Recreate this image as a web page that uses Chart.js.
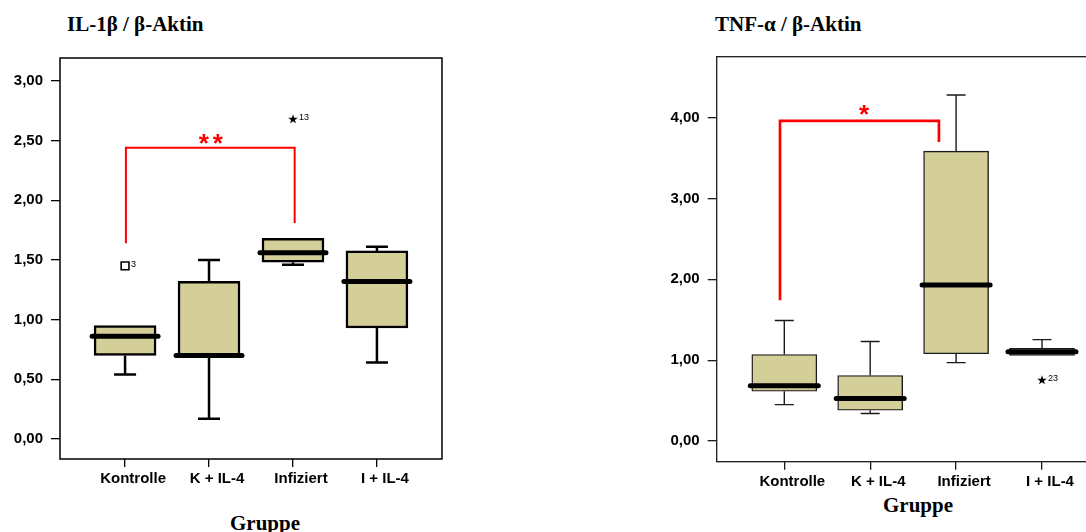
<!DOCTYPE html>
<html>
<head>
<meta charset="utf-8">
<script src="https://cdn.jsdelivr.net/npm/chart.js@4.4.1/dist/chart.umd.min.js"></script>
<style>
  body { margin: 0; width: 1086px; height: 532px; overflow: hidden; position: relative; background: #fff; }
  canvas { position: absolute; top: 0; }
  .title, .axis-title {
    position: absolute; font-family: "Liberation Serif", "Times New Roman", serif;
    font-weight: bold; color: #000; white-space: nowrap;
  }
  .title { font-size: 21px; transform: translateY(-50%); }
  .axis-title { font-size: 21px; transform: translate(-50%, -50%); }
</style>
</head>
<body>
<div class="title" style="left:67px; top:24px">IL-1β / β-Aktin</div>
<div class="title" style="left:715px; top:24px">TNF-α / β-Aktin</div>
<div class="axis-title" style="left:265px; top:523px">Gruppe</div>
<div class="axis-title" style="left:918px; top:505px">Gruppe</div>
<canvas id="il1" width="470" height="532" style="left:0"></canvas>
<canvas id="tnf" width="510" height="532" style="left:620px"></canvas>
<script>
const groups = ["Kontrolle", "K + IL-4", "Infiziert", "I + IL-4"];
const yTicksIl1 = [0, 0.5, 1, 1.5, 2, 2.5, 3];
const yTicksTnf = [0, 1, 2, 3, 4];

// IL-1β / β-Aktin
const il1Min = [0.54, 0.17, 1.46, 0.64];
const il1Q1 = [0.70, 0.70, 1.48, 0.93];
const il1Median = [0.86, 0.70, 1.56, 1.32];
const il1Q3 = [0.95, 1.32, 1.68, 1.575];
const il1Max = [0.95, 1.50, 1.68, 1.61];
const il1OutlierGroup = [1, 3];
const il1OutlierValue = [1.45, 2.68];
const il1OutlierCase = ["3", "13"];
const il1BracketX = [1.01, 3.02];
const il1BracketY = [1.64, 2.44, 1.81];

// TNF-α / β-Aktin
const tnfMin = [0.45, 0.34, 0.97, 1.06];
const tnfQ1 = [0.615, 0.38, 1.08, 1.06];
const tnfMedian = [0.685, 0.525, 1.93, 1.105];
const tnfQ3 = [1.07, 0.81, 3.585, 1.147];
const tnfMax = [1.49, 1.23, 4.28, 1.254];
const tnfOutlierGroup = [4];
const tnfOutlierValue = [0.755];
const tnfOutlierCase = ["23"];
const tnfBracketX = [0.95, 2.80];
const tnfBracketY = [1.74, 3.96, 3.70];

const boxFill = "#d4ce99";
Chart.defaults.font.family = "'Liberation Sans', Arial, sans-serif";
Chart.defaults.color = "#000";

// small filled star used for extreme values
const starImg = document.createElement("canvas");
starImg.width = 10; starImg.height = 10;
(function () {
  const c = starImg.getContext("2d");
  c.beginPath();
  for (let i = 0; i < 10; i++) {
    const r = i % 2 ? 2 : 5;
    const a = -Math.PI / 2 + i * Math.PI / 5;
    c.lineTo(5 + r * Math.cos(a), 5.3 + r * Math.sin(a));
  }
  c.closePath();
  c.fillStyle = "#000";
  c.fill();
})();

const fmt = v => v.toFixed(2).replace(".", ",");

const boxPlotLayer = {
  id: "boxPlotLayer",
  beforeDatasetsDraw(chart, args, o) {
    const { ctx, chartArea: a, scales: { x, y } } = chart;
    ctx.save();
    ctx.lineWidth = o.frameWidth;
    ctx.strokeStyle = o.color;
    ctx.strokeRect(a.left, a.top, a.right - a.left, a.bottom - a.top);
    ctx.lineWidth = o.lineWidth;
    o.min.forEach((lo, i) => {
      const px = x.getPixelForValue(i + 1);
      [[o.q1[i], lo], [o.q3[i], o.max[i]]].forEach(([from, to]) => {
        if (from === to) return;
        const yt = y.getPixelForValue(to);
        ctx.beginPath();
        ctx.moveTo(px, y.getPixelForValue(from));
        ctx.lineTo(px, yt);
        ctx.moveTo(px - o.capHalf, yt);
        ctx.lineTo(px + o.capHalf, yt);
        ctx.stroke();
      });
    });
    ctx.restore();
  },
  afterDatasetsDraw(chart, args, o) {
    const { ctx, scales: { x, y } } = chart;
    ctx.save();
    // medians
    ctx.lineWidth = 5;
    ctx.lineCap = "round";
    ctx.strokeStyle = "#000";
    o.median.forEach((m, i) => {
      const px = x.getPixelForValue(i + 1), py = y.getPixelForValue(m);
      ctx.beginPath();
      ctx.moveTo(px - o.medianHalf, py);
      ctx.lineTo(px + o.medianHalf, py);
      ctx.stroke();
    });
    // case numbers
    ctx.lineCap = "butt";
    ctx.font = "9px 'Liberation Sans', Arial, sans-serif";
    ctx.fillStyle = "#000";
    ctx.textBaseline = "middle";
    o.caseGroup.forEach((g, i) => {
      ctx.fillText(o.caseLabel[i], x.getPixelForValue(g) + 6, y.getPixelForValue(o.caseValue[i]) - 1);
    });
    // significance bracket
    const [x1, x2] = o.bracketX.map(v => x.getPixelForValue(v));
    const [yl, yt, yr] = o.bracketY.map(v => y.getPixelForValue(v));
    ctx.strokeStyle = "#ff0000";
    ctx.lineWidth = o.bracketWidth;
    ctx.beginPath();
    ctx.moveTo(x1, yl); ctx.lineTo(x1, yt); ctx.lineTo(x2, yt); ctx.lineTo(x2, yr);
    ctx.stroke();
    ctx.fillStyle = "#ff0000";
    ctx.font = "bold 26px 'Liberation Sans', Arial, sans-serif";
    ctx.letterSpacing = o.stars.length > 1 ? "4px" : "0px";
    ctx.textAlign = "center";
    ctx.textBaseline = "alphabetic";
    ctx.fillText(o.stars, (x1 + x2) / 2 + o.starDx, yt + o.starDy);
    ctx.restore();
  }
};

function boxChart(id, s) {
  return new Chart(document.getElementById(id), {
    type: "bar",
    data: {
      datasets: [
        {
          type: "bar",
          data: s.q1.map((v, i) => ({ x: i + 1, y: [v, s.q3[i]] })),
          backgroundColor: boxFill,
          borderColor: s.color,
          borderWidth: s.lineWidth,
          borderSkipped: false,
          barThickness: s.barThickness,
          grouped: false
        },
        {
          type: "scatter",
          data: s.caseGroup.map((g, i) => ({ x: g, y: s.caseValue[i] })),
          pointStyle: s.caseStyle,
          pointRadius: 5.5,
          pointBackgroundColor: "#fff",
          pointBorderColor: "#000",
          pointBorderWidth: 1.6
        }
      ]
    },
    options: {
      responsive: false,
      animation: false,
      layout: { padding: s.padding },
      plugins: {
        legend: { display: false },
        tooltip: { enabled: false },
        boxPlotLayer: s
      },
      scales: {
        x: {
          type: "linear",
          offset: false,
          min: s.xRange[0],
          max: s.xRange[1],
          afterBuildTicks: ax => { ax.ticks = groups.map((g, i) => ({ value: i + 1 })); },
          afterFit: ax => { ax.height = s.xAxisHeight; },
          grid: { offset: false, drawOnChartArea: false, tickLength: 8, color: s.color, lineWidth: 1.3 },
          border: { display: false },
          ticks: {
            callback: v => groups[v - 1],
            autoSkip: false,
            maxRotation: 0,
            labelOffset: 8,
            padding: 3,
            font: { size: 15, weight: "bold" }
          }
        },
        y: {
          min: s.yRange[0],
          max: s.yRange[1],
          afterBuildTicks: ax => { ax.ticks = s.yTicks.map(v => ({ value: v })); },
          afterFit: ax => { ax.width = s.yAxisWidth; },
          grid: { drawOnChartArea: false, tickLength: 9, color: s.color, lineWidth: 1.3 },
          border: { display: false },
          ticks: {
            callback: v => fmt(v),
            padding: 8,
            font: { size: 15, weight: "bold" }
          }
        }
      }
    },
    plugins: [boxPlotLayer]
  });
}

boxChart("il1", {
  min: il1Min, q1: il1Q1, median: il1Median, q3: il1Q3, max: il1Max,
  caseGroup: il1OutlierGroup, caseValue: il1OutlierValue, caseLabel: il1OutlierCase,
  caseStyle: ["rect", starImg],
  bracketX: il1BracketX, bracketY: il1BracketY, stars: "**",
  starDx: 2.5, starDy: 4, bracketWidth: 2,
  yTicks: yTicksIl1, yRange: [-0.1675, 3.191], xRange: [0.225, 4.775],
  padding: { top: 58, right: 28, bottom: 0, left: 0 }, yAxisWidth: 60, xAxisHeight: 73,
  color: "#000", frameWidth: 1.5, lineWidth: 2.5, capHalf: 11, medianHalf: 33, barThickness: 62
});

boxChart("tnf", {
  min: tnfMin, q1: tnfQ1, median: tnfMedian, q3: tnfQ3, max: tnfMax,
  caseGroup: tnfOutlierGroup, caseValue: tnfOutlierValue, caseLabel: tnfOutlierCase,
  caseStyle: [starImg],
  bracketX: tnfBracketX, bracketY: tnfBracketY, stars: "*",
  starDx: 4.5, starDy: 2, bracketWidth: 2.7,
  yTicks: yTicksTnf, yRange: [-0.256, 4.754], xRange: [0.213, 4.787],
  padding: { top: 56.7, right: 20.4, bottom: 0, left: 0 }, yAxisWidth: 96.7, xAxisHeight: 70.3,
  color: "#1a1a1a", frameWidth: 1.3, lineWidth: 1.4, capHalf: 9.5, medianHalf: 34, barThickness: 65
});
</script>
</body>
</html>
